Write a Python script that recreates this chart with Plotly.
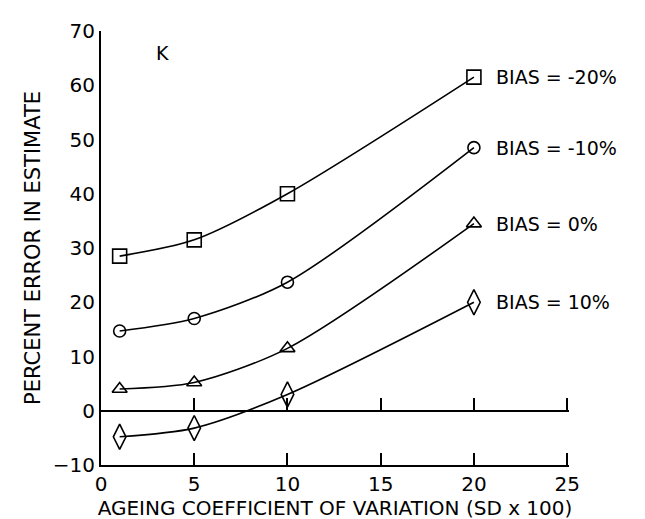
import plotly.graph_objects as go

cv = [1, 5, 10, 20]
bias_labels = ['BIAS = -20%', 'BIAS = -10%', 'BIAS = 0%', 'BIAS = 10%']
err_m20 = [28.5, 31.5, 40, 61.5]
err_m10 = [14.7, 17, 23.7, 48.5]
err_0 = [4, 5.2, 11.5, 34.5]
err_p10 = [-4.8, -3.2, 3, 20]
symbols = ['square-open', 'circle-open', 'triangle-up-open', 'diamond-tall-open']
sizes = [14, 12, 13, 18]

fnt = 'DejaVu Sans, sans-serif'

fig = go.Figure()
for name, ys, sym, sz in zip(bias_labels, [err_m20, err_m10, err_0, err_p10], symbols, sizes):
    fig.add_trace(
        go.Scatter(name=name, x=cv, y=ys,
                   mode='lines+markers',
                   line=dict(color='black', width=1.6, shape='spline', smoothing=0.8),
                   marker=dict(symbol=sym, size=sz, color='black',
                               line=dict(width=1.6, color='black')),
                   showlegend=False)
    )
    # label to the right of the last point
    fig.add_annotation(x=cv[-1] + 1.1, y=ys[-1], text=name, showarrow=False,
                       xanchor='left', yanchor='middle',
                       font=dict(family=fnt, size=19, color='black'))

fig.add_annotation(x=3.3, y=66, text='K', showarrow=False,
                   font=dict(family=fnt, size=19, color='black'))

# invisible traces so the two extra tick axes get drawn
fig.add_trace(go.Scatter(x=[0, 25], y=[0, 0], xaxis='x2', mode='lines',
                         line=dict(color='rgba(0,0,0,0)'), showlegend=False,
                         hoverinfo='skip'))
fig.add_trace(go.Scatter(x=[0, 25], y=[0, 0], xaxis='x3', mode='lines',
                         line=dict(color='rgba(0,0,0,0)'), showlegend=False,
                         hoverinfo='skip'))

tick_axis = dict(range=[0, 25.1], overlaying='x', anchor='free', side='bottom',
                 tickvals=[5, 10, 15, 20, 25],
                 ticks='inside', ticklen=12, tickwidth=2, tickcolor='black',
                 showticklabels=False, showgrid=False, zeroline=False,
                 automargin=False)

fig.update_layout(
    width=645, height=519,
    margin=dict(l=93, r=84, t=23, b=62),
    paper_bgcolor='white', plot_bgcolor='rgba(0,0,0,0)',
    font=dict(family=fnt, color='black'),
    xaxis=dict(range=[0, 25.1], tickvals=[0, 5, 10, 15, 20, 25],
               ticktext=['0', '5', '10', '15', '20', '25'],
               showline=True, linecolor='black', linewidth=2,
               ticks='', showgrid=False, zeroline=False,
               tickfont=dict(size=20), automargin=False,
               title=dict(text='AGEING COEFFICIENT OF VARIATION (SD x 100)',
                          font=dict(size=20), standoff=0)),
    # zero line with ticks
    xaxis2=dict(tick_axis, position=0.125, showline=True,
                linecolor='black', linewidth=2),
    # ticks on the bottom axis
    xaxis3=dict(tick_axis, position=0, showline=False),
    yaxis=dict(range=[-10, 70], tickvals=list(range(-10, 71, 10)),
               showline=True, linecolor='black', linewidth=2,
               ticks='', ticksuffix=' ', showgrid=False, zeroline=False,
               tickfont=dict(size=20), automargin=False,
               title=dict(text='PERCENT ERROR IN ESTIMATE',
                          font=dict(size=21), standoff=6)),
)

fig.write_html('out.html')
